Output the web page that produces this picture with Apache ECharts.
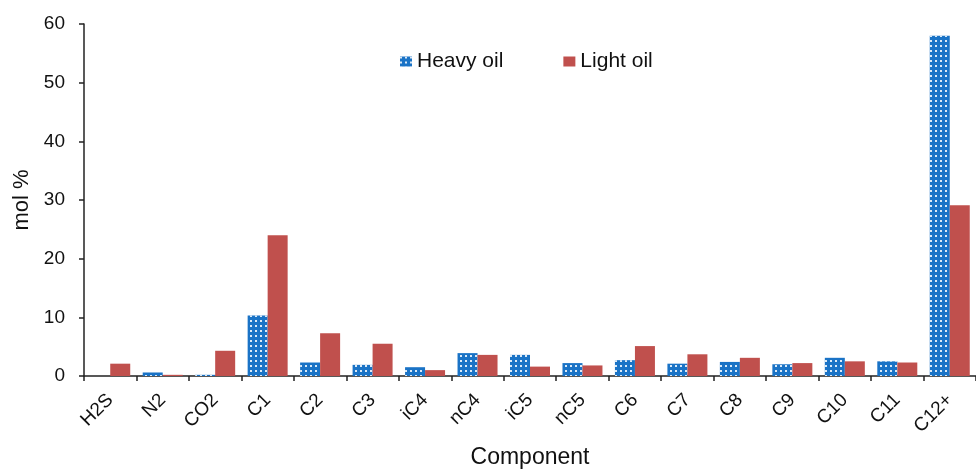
<!DOCTYPE html>
<html>
<head>
<meta charset="utf-8">
<script src="https://cdn.jsdelivr.net/npm/echarts@6/dist/echarts.min.js"></script>
<style>html,body{margin:0;padding:0;background:#fff}#c{width:976px;height:469px}</style>
</head>
<body>
<div id="c"></div>
<script>
const categories = ['H2S','N2','CO2','C1','C2','C3','iC4','nC4','iC5','nC5','C6','C7','C8','C9','C10','C11','C12+'];
const heavyOil = [0, 0.6, 0.2, 10.3, 2.3, 1.9, 1.5, 3.9, 3.6, 2.2, 2.7, 2.1, 2.4, 2.0, 3.1, 2.5, 58.0];
const lightOil = [2.1, 0.2, 4.3, 24.0, 7.3, 5.5, 1.0, 3.6, 1.6, 1.8, 5.1, 3.7, 3.1, 2.2, 2.5, 2.3, 29.1];
const yTicks = [0, 10, 20, 30, 40, 50, 60];

const chart = echarts.init(document.getElementById('c'), null, {renderer: 'canvas'});
const font = 'Liberation Sans, Arial, Helvetica, sans-serif';
chart.setOption({
  animation: false,
  textStyle: {fontFamily: font},
  legend: {
    left: 395, top: 46,
    icon: 'rect',
    itemWidth: 12, itemHeight: 10, itemGap: 60,
    textStyle: {fontSize: 21, color: '#111', fontFamily: font},
    data: ['Heavy oil', 'Light oil']
  },
  grid: {left: 84, right: 0, top: 24, bottom: 93, containLabel: false, outerBoundsMode: 'none'},
  xAxis: {
    type: 'category',
    data: categories,
    name: 'Component',
    nameLocation: 'middle',
    nameGap: 70,
    nameTextStyle: {fontSize: 23, color: '#111', fontFamily: font},
    axisLine: {lineStyle: {color: '#222', width: 1.5}},
    axisTick: {show: true, alignWithLabel: false, length: 5, lineStyle: {color: '#222', width: 1.5}},
    axisLabel: {rotate: 45, fontSize: 19, color: '#111', margin: 21, padding: [21, 0, 0, 0], interval: 0, fontFamily: font}
  },
  yAxis: {
    type: 'value',
    min: yTicks[0], max: yTicks[yTicks.length - 1], interval: 10,
    name: 'mol %',
    nameLocation: 'middle',
    nameGap: 50,
    nameRotate: 90,
    nameTextStyle: {fontSize: 22, color: '#111', fontFamily: font},
    axisLine: {show: true, lineStyle: {color: '#222', width: 1.5}},
    axisTick: {show: true, length: 5, lineStyle: {color: '#222', width: 1.5}},
    splitLine: {show: false},
    axisLabel: {fontSize: 19, color: '#111', margin: 19, fontFamily: font}
  },
  series: [
    {
      name: 'Heavy oil', type: 'bar', data: heavyOil,
      barWidth: 20, barGap: '0%',
      itemStyle: {
        color: '#1a73c6',
        decal: {symbol: 'rect', color: 'rgba(255,255,255,0.85)', symbolSize: 1, dashArrayX: [2, 3], dashArrayY: [1.5, 3], rotation: 0}
      }
    },
    {
      name: 'Light oil', type: 'bar', data: lightOil,
      barWidth: 20, barGap: '0%',
      itemStyle: {color: '#c0504d'}
    }
  ]
});
</script>
</body>
</html>
